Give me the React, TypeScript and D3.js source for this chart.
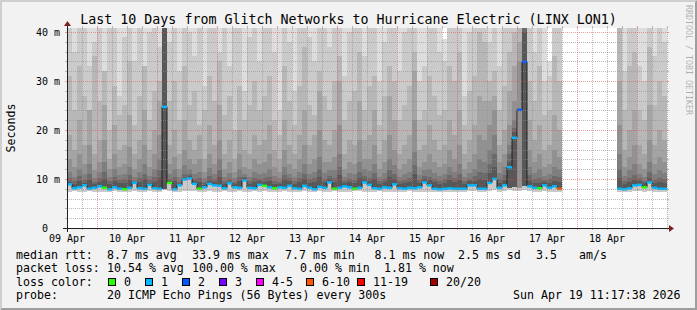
import React from "react";
import * as d3 from "d3";

// ---------------- data ----------------
const TITLE = "Last 10 Days from Glitch Networks to Hurricane Electric (LINX LON1)";
const START = "2026-04-09T12:00:00Z";
const END = "2026-04-19T12:00:00Z";
const SLOT_HOURS = 2;
const Y_MAX = 40.8;
const Y_TICKS = [0, 10, 20, 30, 40];
const Y_TICK_LABELS = ["0", "10 m", "20 m", "30 m", "40 m"];
const Y_UNIT = "Seconds";

const N = null;

// median rtt (ms) per 2h slot
const median: (number | null)[] = [
  8.9, 8.1, 8.3, 8.7, 8.0, 8.2, 8.5, 8.2, 7.9, 8.3,
  8.0, 7.9, 8.2, 9.2, 8.1, 8.0, 8.8, 8.1, 8.0, 24.7,
  9.2, 7.9, 8.7, 9.9, 10.1, 9.0, 8.0, 8.3, 9.0, 8.7,
  8.6, 8.1, 9.1, 8.3, 8.2, 9.7, 8.2, 8.1, 8.8, 8.6,
  8.3, 8.1, 8.3, 8.2, 8.6, 8.1, 8.0, 8.6, 8.2, 7.9,
  8.4, 8.2, 9.3, 8.0, 8.2, 8.5, 8.3, 8.0, 8.2, 9.3,
  8.8, 8.1, 8.0, 8.3, 8.2, 8.9, 8.1, 8.0, 8.2, 8.1,
  8.3, 9.3, 8.7, 8.0, 7.9, 8.0, 8.1, 8.0, 8.0, 8.0,
  8.7, 8.7, 8.0, 8.0, 9.2, 10.0, 8.2, 8.7, 12.4, 18.4,
  24.1, 33.9, 8.5, 8.2, 8.1, 8.7, 8.2, 8.5, 8.0, N,
  N, N, N, N, N, N, N, N, N, N,
  8.0, 7.9, 8.1, 8.7, 8.8, 8.3, 9.3, 8.2, 8.0, 8.0,
];

// lost pings (of 20) per slot
const lossCount: number[] = [
  1, 1, 1, 1, 1, 1, 1, 0, 1, 1,
  1, 0, 1, 1, 1, 1, 1, 1, 1, 1,
  0, 1, 1, 1, 1, 1, 0, 1, 1, 1,
  1, 1, 1, 1, 1, 1, 1, 1, 1, 0,
  1, 0, 1, 1, 1, 1, 1, 1, 1, 1,
  1, 1, 1, 0, 1, 1, 1, 0, 1, 1,
  1, 1, 1, 1, 1, 1, 1, 1, 1, 1,
  1, 1, 1, 1, 1, 1, 1, 1, 1, 1,
  1, 1, 1, 1, 1, 1, 1, 1, 1, 1,
  2, 2, 1, 1, 0, 1, 1, 1, 8, 20,
  20, 20, 20, 20, 20, 20, 20, 20, 20, 20,
  1, 1, 1, 1, 1, 0, 1, 1, 1, 1,
];

// lowest ping per slot
const pingLow: (number | null)[] = [
  7.4, 7.5, 7.4, 7.4, 7.5, 7.4, 7.3, 7.4, 7.4, 7.5,
  7.4, 7.3, 7.4, 7.5, 7.4, 7.4, 7.5, 7.4, 7.4, 7.8,
  7.5, 7.4, 7.4, 7.6, 7.6, 7.5, 7.4, 7.4, 7.5, 7.4,
  7.4, 7.5, 7.4, 7.3, 7.5, 7.4, 7.4, 7.5, 7.4, 7.5,
  7.4, 7.4, 7.4, 7.5, 7.4, 7.3, 7.4, 7.5, 7.4, 7.4,
  7.5, 7.4, 7.4, 7.5, 7.4, 7.4, 7.4, 7.5, 7.5, 7.4,
  7.4, 7.4, 7.5, 7.4, 7.4, 7.3, 7.4, 7.4, 7.5, 7.4,
  7.4, 7.4, 7.3, 7.4, 7.4, 7.4, 7.4, 7.4, 7.4, 7.4,
  7.5, 7.5, 7.4, 7.4, 7.6, 7.7, 7.4, 7.5, 7.7, 7.6,
  7.6, 7.7, 7.5, 7.4, 7.4, 7.5, 7.4, 7.4, 7.4, N,
  N, N, N, N, N, N, N, N, N, N,
  7.4, 7.4, 7.4, 7.5, 7.5, 7.4, 7.5, 7.4, 7.4, 7.4,
];

// slots where the lower pings stay low while the median jumps: [slot, low-quantile ms]
const lowQuantileAtSpikes: [number, number][] = [
  [19, 8.0], [88, 8.1], [89, 8.3], [90, 8.2], [91, 8.5],
];

// upper smoke levels (sorted pings, highest first)
const ping20: (number | null)[] = [
  45, 45, 45, 45, 45, 45, 45, 45, 45, 45,
  45, 45, 45, 45, 45, 45, 45, 45, 45, 45,
  45, 45, 45, 45, 45, 45, 45, 45, 45, 45,
  45, 45, 45, 45, 45, 45, 45, 45, 45, 45,
  45, 45, 45, 45, 45, 45, 45, 45, 45, 45,
  45, 45, 45, 45, 45, 45, 45, 45, 45, 45,
  45, 45, 45, 45, 45, 45, 45, 45, 45, 45,
  45, 45, 45, 45, 45, 38.5, 45, 45, 45, 45,
  45, 45, 45, 45, 45, 45, 45, 45, 45, 45,
  45, 45, 45, 45, 45, 45, 34, 45, 45, N,
  N, N, N, N, N, N, N, N, N, N,
  45, 45, 45, 45, 45, 45, 45, 45, 45, 45,
];
const ping19: (number | null)[] = [
  45, 36, 41, 45, 33, 38, 45, 30, 42, 45,
  27, 39, 45, 34, 45, 31, 40, 45, 37, 45,
  38, 45, 32, 45, 40, 35, 45, 29, 43, 45,
  36, 45, 33, 41, 45, 28, 39, 45, 34, 45,
  41, 36, 24, 45, 38, 28, 45, 45, 39, 34,
  45, 42, 37, 45, 45, 31, 40, 45, 45, 35,
  42, 45, 30, 38, 45, 45, 32, 40, 45, 45,
  30, 33, 45, 41, 36, 34, 45, 45, 45, 27,
  40, 45, 45, 45, 38, 42, 33, 45, 45, 45,
  45, 45, 41, 36, 45, 30, 31, 45, 45, N,
  N, N, N, N, N, N, N, N, N, N,
  45, 32, 45, 43, 33, 30, 45, 35, 45, 38,
];
const ping18: (number | null)[] = [
  31, 24, 33, 27, 22, 35, 26, 32, 20, 29,
  23, 25, 34, 21, 27, 33, 22, 28, 30, 45,
  26, 30, 22, 33, 25, 28, 21, 24, 31, 26,
  34, 23, 27, 20, 29, 22, 25, 30, 24, 27,
  31, 22, 19, 33, 26, 21, 29, 37, 25, 23,
  32, 27, 24, 30, 35, 22, 26, 28, 36, 24,
  29, 31, 21, 27, 33, 30, 22, 25, 29, 36,
  22, 24, 31, 27, 23, 24, 33, 30, 36, 21,
  28, 31, 40, 38, 30, 32, 24, 29, 36, 40,
  45, 45, 30, 26, 33, 23, 24, 35, 30, N,
  N, N, N, N, N, N, N, N, N, N,
  45, 24, 33, 36, 24, 22, 37, 25, 30, 27,
];
const ping17: (number | null)[] = [
  19, 16, 22, 17, 24, 15, 18, 25, 14, 21,
  16, 17, 23, 15, 18, 24, 16, 20, 26, 45,
  17, 20, 15, 22, 18, 16, 19, 14, 21, 17,
  25, 15, 18, 14, 20, 16, 15, 19, 17, 18,
  21, 16, 14, 22, 17, 15, 19, 24, 17, 19,
  28, 18, 17, 20, 30, 15, 18, 17, 26, 18,
  19, 24, 15, 18, 27, 22, 15, 17, 19, 32,
  16, 17, 21, 18, 16, 17, 22, 19, 24, 15,
  18, 21, 27, 26, 26, 27, 17, 20, 28, 33,
  38, 45, 22, 18, 21, 16, 17, 23, 20, N,
  N, N, N, N, N, N, N, N, N, N,
  30, 16, 20, 24, 17, 15, 25, 17, 20, 18,
];
const ping16: (number | null)[] = [
  14, 12.5, 15, 13, 17, 11.8, 13.5, 18, 12, 15,
  12.5, 13, 16.5, 12, 14, 17, 12.5, 15, 19, 45,
  13, 14.5, 12, 16, 14, 13, 14, 11.5, 15, 13,
  18, 12, 13.5, 11.5, 15, 12.5, 12, 14, 13, 13.5,
  15, 12.5, 11.5, 16, 13, 12, 14, 17, 13, 14,
  20, 13.5, 13.5, 14.5, 21, 12, 13.5, 13, 18, 14,
  14, 17, 12, 13.5, 19, 16, 12, 13, 14, 22,
  12.5, 13.5, 15, 13.5, 12.5, 13, 16, 14, 17, 12,
  13.5, 15, 19, 18, 21, 24, 13.5, 15, 21, 26,
  34, 45, 16, 13.5, 15, 12.5, 13, 16, 14.5, N,
  N, N, N, N, N, N, N, N, N, N,
  21, 12.5, 14.5, 17, 13, 12, 18, 13, 14.5, 13.5,
];
const ping15: (number | null)[] = [
  11.5, 10.5, 12, 11, 13, 10.2, 11.5, 13.5, 10.4, 12,
  10.8, 11, 12.5, 10.5, 11.5, 13, 10.6, 12, 14, 45,
  11, 12, 10.4, 12.8, 12, 11, 11.5, 10.2, 12.2, 11,
  14, 10.5, 11.2, 10.2, 12, 11, 10.5, 11.5, 11, 11.2,
  12, 10.6, 10.2, 12.5, 11, 10.4, 11.5, 13, 11, 11.5,
  14.5, 11.2, 11.8, 11.8, 15, 10.4, 11.2, 11, 13.5, 12,
  11.6, 13, 10.5, 11.2, 14, 12.8, 10.4, 11, 11.5, 15.5,
  10.8, 11.8, 12, 11.2, 10.6, 11, 12.5, 11.5, 13, 10.5,
  11.2, 12, 14, 13.5, 16, 19, 11.2, 12.5, 17, 22,
  8.0, 45, 12.5, 11.2, 12, 10.6, 11, 12.5, 12, N,
  N, N, N, N, N, N, N, N, N, N,
  15, 10.6, 11.8, 13, 11, 10.4, 13.5, 11, 11.8, 11.2,
];
const ping14: (number | null)[] = [
  10.2, 9.6, 10.6, 9.8, 11, 9.4, 10.2, 11.4, 9.5, 10.5,
  9.8, 9.9, 10.8, 9.6, 10.2, 11, 9.7, 10.4, 11.8, 45,
  10, 10.5, 9.4, 11, 11, 10, 10.2, 9.4, 10.6, 10,
  11.8, 9.6, 10, 9.4, 10.5, 10.4, 9.6, 10.2, 10, 10.1,
  10.5, 9.6, 9.4, 10.8, 10.1, 9.6, 10.2, 11, 9.9, 10.1,
  12, 10, 10.6, 10.3, 12.5, 9.6, 10, 9.8, 11.5, 10.7,
  10.3, 11.2, 9.6, 10, 11.8, 11, 9.5, 9.8, 10.2, 12.8,
  9.8, 10.6, 10.5, 10, 9.6, 9.9, 10.8, 10.2, 11, 9.6,
  10, 10.6, 11.5, 11.2, 13, 15, 9.9, 10.8, 15, 20.5,
  8.0, 43, 10.8, 10, 10.2, 9.8, 9.9, 10.6, 10.4, N,
  N, N, N, N, N, N, N, N, N, N,
  12, 9.6, 10.2, 10.8, 10.1, 9.6, 11.4, 9.8, 10.3, 10,
];
const ping13: (number | null)[] = [
  9.4, 9.0, 9.6, 9.2, 9.8, 8.9, 9.4, 10, 8.9, 9.5,
  9.1, 9.1, 9.7, 9.0, 9.3, 9.9, 9.1, 9.4, 10.2, 45,
  9.6, 9.5, 9.0, 10.2, 10.6, 9.5, 9.3, 8.8, 9.6, 9.3,
  10.4, 9.0, 9.4, 8.9, 9.6, 10.1, 9.0, 9.4, 9.5, 9.4,
  9.6, 9.0, 8.9, 9.7, 9.5, 9.0, 9.3, 9.9, 9.2, 9.3,
  10.5, 9.3, 9.9, 9.4, 10.8, 9.1, 9.3, 9.1, 10.2, 10.0,
  9.6, 10, 9.0, 9.3, 10.4, 9.9, 8.9, 9.2, 9.4, 11,
  9.2, 10.0, 9.7, 9.3, 9.0, 9.2, 9.8, 9.3, 9.8, 9.0,
  9.5, 9.6, 10, 9.8, 11.2, 12.5, 9.1, 9.7, 13.5, 19.5,
  8.0, 40, 9.6, 9.1, 9.2, 9.4, 9.1, 9.6, 9.3, N,
  N, N, N, N, N, N, N, N, N, N,
  10.2, 9.0, 9.3, 9.7, 9.5, 9.1, 10.2, 9.1, 9.3, 9.2,
];

const LEGEND_RTT = ["median rtt:", "8.7 ms avg", "33.9 ms max", "7.7 ms min", "8.1 ms now", "2.5 ms sd", "3.5", "am/s"];
const LEGEND_LOSS = ["packet loss:", "10.54 % avg", "100.00 % max", "0.00 % min", "1.81 % now"];
const LOSS_LABEL = "loss color:";
const LOSS_CLASSES = ["0", "1", "2", "3", "4-5", "6-10", "11-19", "20/20"];
const LOSS_UPPER = [0, 1, 2, 3, 5, 10, 19, 20];
const PROBE = ["probe:", "20 ICMP Echo Pings (56 Bytes) every 300s"];
const STAMP = "Sun Apr 19 11:17:38 2026";
const WATERMARK = "RRDTOOL / TOBI OETIKER";

// ---------------- styles ----------------
const LOSS_COLORS = ["#26ff00", "#00b8ff", "#0059ff", "#7e00ff", "#ff00ff", "#ff5500", "#ff0000", "#a10000"];
const BAND_COLORS = ["#dddddd", "#cacaca", "#b7b7b7", "#a4a4a4", "#919191", "#7e7e7e", "#6b6b6b", "#585858"];
const GRID = "rgba(143,143,143,0.6)";
const MGRID = "rgba(222,79,79,0.55)";
const FONT = "'DejaVu Sans Mono', monospace";

export default function App() {
  const W = 697, H = 310;
  const X0 = 67, X1 = 667, YB = 228, YT = 28;
  const t0 = new Date(START);
  const t1 = new Date(END);
  const xs = d3.scaleUtc().domain([t0, t1]).range([X0, X1]);
  const ys = d3.scaleLinear().domain([0, Y_MAX]).range([YB, YT]);
  const slotT = (i: number) => d3.utcHour.offset(t0, i * SLOT_HOURS);
  const clampV = (v: number) => Math.min(v, Y_MAX + 0.5);
  const spikeLow = new Map(lowQuantileAtSpikes);

  const bands = [ping20, ping19, ping18, ping17, ping16, ping15, ping14, ping13];

  const smoke: JSX.Element[] = [];
  bands.forEach((arr, k) => {
    arr.forEach((top, i) => {
      const m = median[i];
      const lo = k < 2 ? pingLow[i] : spikeLow.has(i) ? (spikeLow.get(i) as number) : m;
      if (top == null || lo == null || m == null) return;
      if (top <= lo) return;
      const xa = xs(slotT(i));
      const xb = xs(slotT(i + 1));
      const ya = ys(clampV(top));
      const yb = ys(lo);
      smoke.push(
        <rect key={`b${k}-${i}`} x={xa} y={ya} width={xb - xa} height={Math.max(0, yb - ya)} fill={BAND_COLORS[k]} />
      );
    });
  });

  // median step line
  const medPts: { t: Date; v: number | null }[] = [];
  median.forEach((v, i) => {
    medPts.push({ t: slotT(i), v });
    medPts.push({ t: slotT(i + 1), v });
  });
  const medLine = d3
    .line<{ t: Date; v: number | null }>()
    .defined((d) => d.v != null)
    .x((d) => xs(d.t))
    .y((d) => ys(d.v as number));

  const lossClass = (l: number) => LOSS_UPPER.findIndex((u) => l <= u);

  const lossBoxes = median.map((v, i) => {
    if (v == null) return null;
    const xa = xs(slotT(i));
    const xb = xs(slotT(i + 1));
    const yc = ys(v);
    return <rect key={`l${i}`} x={xa} y={yc - 1.25} width={xb - xa} height={2.5} fill={LOSS_COLORS[lossClass(lossCount[i])]} />;
  });

  // grid
  const hMinor = ys.ticks(20).filter((v) => v % 10 !== 0 && v <= Y_MAX);
  const hMajor = Y_TICKS.filter((v) => v > 0);
  const vAll = d3.utcHour.every(6)!.range(d3.utcHour.offset(t0, 6), d3.utcHour.offset(t1, 1));
  const vMajor = vAll.filter((d) => d.getUTCHours() === 0);
  const vMinor = vAll.filter((d) => d.getUTCHours() !== 0);
  const dayNoons = d3.utcDay.range(d3.utcDay.floor(t0), d3.utcDay.floor(t1)).map((d) => d3.utcHour.offset(d, 12));
  const fmt = d3.utcFormat("%d %b");
  const px = (v: number) => Math.round(v) + 0.5;

  const rttX = [16, 107, 192, 285, 374.5, 458, 536, 579];
  const lossX = [16, 107, 192, 300, 384];
  const boxX = [108, 145, 182, 219, 256, 306, 357, 430];
  const base = [258.5, 272, 285.7, 299.3];

  return (
    <svg width={W} height={H} style={{ position: "absolute", left: 0, top: 0 }} fontFamily={FONT}>
      <rect x={0} y={0} width={W} height={H} fill="#f2f2f2" />
      <polygon points={`0,${H} 2,${H - 2} 2,2 ${W - 2},2 ${W},0 0,0`} fill="#cfcfcf" />
      <polygon points={`2,${H - 2} ${W - 2},${H - 2} ${W - 2},2 ${W},0 ${W},${H} 0,${H}`} fill="#9e9e9e" />
      <rect x={X0} y={YT} width={X1 - X0} height={YB - YT} fill="#ffffff" />
      <defs>
        <clipPath id="cv">
          <rect x={X0} y={YT} width={X1 - X0} height={YB - YT} />
        </clipPath>
      </defs>
      <g clipPath="url(#cv)">
        <g shapeRendering="crispEdges">{smoke}</g>
        <path d={medLine(medPts) || ""} fill="none" stroke="#202020" strokeWidth={1} />
        <g>{lossBoxes}</g>
      </g>

      {/* grid */}
      <g strokeWidth={1} fill="none" shapeRendering="crispEdges">
        {hMinor.map((v) => (
          <g key={`hm${v}`} stroke={GRID}>
            <line x1={X0} x2={X1} y1={px(ys(v))} y2={px(ys(v))} strokeDasharray="1 1" />
            <line x1={X0 - 2} x2={X0} y1={px(ys(v))} y2={px(ys(v))} />
            <line x1={X1} x2={X1 + 2} y1={px(ys(v))} y2={px(ys(v))} />
          </g>
        ))}
        {vMinor.map((d) => (
          <g key={`vm${+d}`} stroke={GRID}>
            <line x1={px(xs(d))} x2={px(xs(d))} y1={YT} y2={YB} strokeDasharray="1 1" />
            <line x1={px(xs(d))} x2={px(xs(d))} y1={YB} y2={YB + 2} />
            <line x1={px(xs(d))} x2={px(xs(d))} y1={YT - 2} y2={YT} />
          </g>
        ))}
        {hMajor.map((v) => (
          <g key={`hM${v}`} stroke={MGRID}>
            <line x1={X0} x2={X1} y1={px(ys(v))} y2={px(ys(v))} strokeDasharray="1 1" />
            <line x1={X0 - 2} x2={X0} y1={px(ys(v))} y2={px(ys(v))} />
            <line x1={X1} x2={X1 + 2} y1={px(ys(v))} y2={px(ys(v))} />
          </g>
        ))}
        {vMajor.map((d) => (
          <g key={`vM${+d}`} stroke={MGRID}>
            <line x1={px(xs(d))} x2={px(xs(d))} y1={YT} y2={YB} strokeDasharray="1 1" />
            <line x1={px(xs(d))} x2={px(xs(d))} y1={YB} y2={YB + 2} />
            <line x1={px(xs(d))} x2={px(xs(d))} y1={YT - 2} y2={YT} />
          </g>
        ))}
      </g>

      {/* axes */}
      <g stroke="#202020" strokeWidth={1} shapeRendering="crispEdges">
        <line x1={X0 - 4} x2={X1 + 4} y1={YB + 0.5} y2={YB + 0.5} />
        <line x1={X0 + 0.5} x2={X0 + 0.5} y1={YB + 4} y2={YT - 4} />
      </g>
      <polygon points={`${X1 + 2},${YB - 3} ${X1 + 2},${YB + 4} ${X1 + 7},${YB + 0.5}`} fill="#801f1f" />
      <polygon points={`${X0 - 3},${YT - 2} ${X0 + 4},${YT - 2} ${X0 + 0.5},${YT - 7}`} fill="#801f1f" />

      {/* axis labels */}
      <g fontSize={10} fill="#000">
        {Y_TICKS.map((v, i) => (
          <text key={`yl${v}`} x={v === 0 ? 48 : 60} y={ys(v) + 3.6} textAnchor="end">
            {Y_TICK_LABELS[i]}
          </text>
        ))}
        {dayNoons.map((d) => (
          <text key={`xl${+d}`} x={xs(d)} y={241.5} textAnchor="middle">
            {fmt(d)}
          </text>
        ))}
      </g>

      <text x={348.5} y={24} fontSize={13.3} textAnchor="middle" fill="#000">
        {TITLE}
      </text>
      <text transform={`translate(15,${(YT + YB) / 2}) rotate(-90)`} fontSize={11.6} textAnchor="middle" fill="#000">
        {Y_UNIT}
      </text>
      <text transform={`translate(692.5,5) rotate(90)`} y={6.3} fontSize={8.3} fill="#000" fillOpacity={0.3}>
        {WATERMARK}
      </text>

      {/* legend */}
      <g fontSize={11.6} fill="#000">
        {LEGEND_RTT.map((s, i) => (
          <text key={`r${i}`} x={rttX[i]} y={base[0]}>{s}</text>
        ))}
        {LEGEND_LOSS.map((s, i) => (
          <text key={`p${i}`} x={lossX[i]} y={base[1]}>{s}</text>
        ))}
        <text x={16} y={base[2]}>{LOSS_LABEL}</text>
        {LOSS_CLASSES.map((s, i) => (
          <g key={`lc${i}`}>
            <rect x={boxX[i] + 0.5} y={278.5} width={7} height={7} fill={LOSS_COLORS[i]} stroke="#000" strokeWidth={1} />
            <text x={boxX[i] + 16} y={base[2]}>{s}</text>
          </g>
        ))}
        <text x={16} y={base[3]}>{PROBE[0]}</text>
        <text x={107} y={base[3]}>{PROBE[1]}</text>
        <text x={513} y={base[3]}>{STAMP}</text>
      </g>
    </svg>
  );
}
